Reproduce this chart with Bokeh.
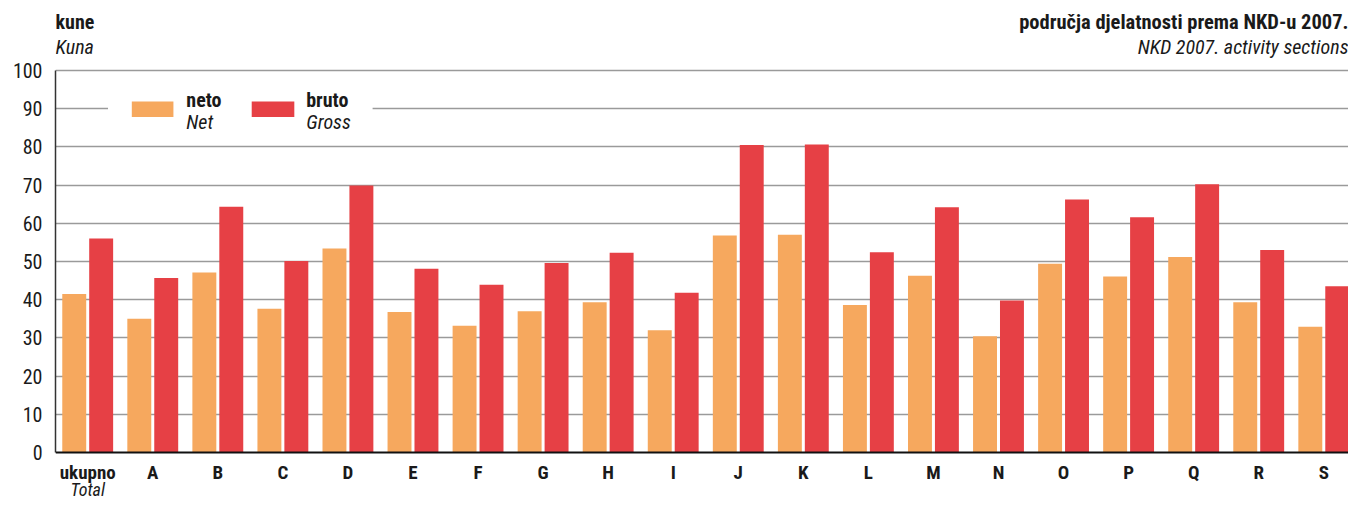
from bokeh.plotting import figure
from bokeh.models import Range1d, FixedTicker, Label, BoxAnnotation, ColumnDataSource, Span
from bokeh.core.properties import value
from bokeh.transform import dodge
from bokeh.embed import file_html
from bokeh.resources import INLINE

categories = ["ukupno", "A", "B", "C", "D", "E", "F", "G", "H", "I",
              "J", "K", "L", "M", "N", "O", "P", "Q", "R", "S"]
sublabels = ["Total"] + [""] * 19
neto = [41.5, 35.0, 47.1, 37.6, 53.4, 36.8, 33.2, 37.0, 39.3, 32.0,
        56.8, 57.0, 38.6, 46.3, 30.4, 49.4, 46.1, 51.2, 39.3, 32.9]
bruto = [56.0, 45.7, 64.3, 50.1, 69.9, 48.1, 43.9, 49.6, 52.3, 41.8,
         80.5, 80.6, 52.4, 64.2, 39.8, 66.2, 61.6, 70.2, 53.0, 43.5]
yticks = list(range(0, 101, 10))

FONT = "Roboto Condensed"
TXT = "#1a1a1a"
NETO_C = "#F6A85E"
BRUTO_C = "#E64045"

W, H = 1348, 501
TOP_PX, ZERO_PX = 70, 452          # pixel rows of the 100 and 0 gridlines
K = (ZERO_PX - TOP_PX) / 100.0     # pixels per kuna
XS, XE = -0.495, 19.38
YS = -(H - ZERO_PX) / K
YE = 100 + TOP_PX / K

xpos = list(range(len(categories)))
src = ColumnDataSource(dict(x=xpos, neto=neto, bruto=bruto,
                            cat=categories, sub=sublabels))

p = figure(width=W, height=H, output_backend="svg", toolbar_location=None,
           tools="", x_range=Range1d(XS, XE), y_range=Range1d(YS, YE),
           x_axis_location=None,
           min_border_left=55, min_border_right=0, min_border_top=0,
           min_border_bottom=0)
p.outline_line_color = None

off = 0.207
bw = 0.368
p.vbar(x=dodge("x", -off), top="neto", width=bw, bottom=0, source=src,
       fill_color=NETO_C, line_color=None)
p.vbar(x=dodge("x", off), top="bruto", width=bw, bottom=0, source=src,
       fill_color=BRUTO_C, line_color=None)

p.xgrid.grid_line_color = None
p.ygrid.ticker = FixedTicker(ticks=yticks[1:])
p.ygrid.grid_line_color = "#9a9a9a"
p.ygrid.grid_line_width = 1.5

p.add_layout(Span(location=yticks[0], dimension="width", line_color="#111111",
                  line_width=2))

p.yaxis.ticker = FixedTicker(ticks=yticks)
p.yaxis.bounds = (yticks[0], yticks[-1])
p.yaxis.axis_line_color = "#333333"
p.yaxis.axis_line_width = 1.5
p.yaxis.major_tick_line_color = None
p.yaxis.minor_tick_line_color = None
p.yaxis.major_tick_out = 0
p.yaxis.minor_tick_out = 0
p.yaxis.major_label_text_font = FONT
p.yaxis.major_label_text_font_size = "20px"
p.yaxis.major_label_text_color = TXT
p.yaxis.major_label_standoff = 13

# category labels (x axis)
p.text(x="x", y=-20 / K, text="cat", source=src, text_font=value(FONT),
       text_font_size="19px", text_font_style="bold", text_color=TXT,
       text_align="center", text_baseline="middle")
p.text(x="x", y=-37 / K, text="sub", source=src, text_font=value(FONT),
       text_font_size="18px", text_font_style="italic", text_color=TXT,
       text_align="center", text_baseline="middle")


def rx(px):
    # reference-picture x pixel -> data x
    return (px - 87.5) / 65.65


def ry(py):
    # reference-picture y pixel -> data y
    return (465 - py) / 3.95


# legend
p.add_layout(BoxAnnotation(left=rx(108), right=rx(375), bottom=ry(125),
                           top=ry(96), fill_color="white", fill_alpha=1,
                           line_color=None))
p.add_layout(BoxAnnotation(left=rx(132), right=rx(174), bottom=ry(118),
                           top=ry(102), fill_color=NETO_C, fill_alpha=1,
                           line_color=None))
p.add_layout(BoxAnnotation(left=rx(253), right=rx(296), bottom=ry(118),
                           top=ry(102), fill_color=BRUTO_C, fill_alpha=1,
                           line_color=None))
for lx, t1, t2 in [(187, "neto", "Net"), (308, "bruto", "Gross")]:
    p.add_layout(Label(x=rx(lx), y=ry(100), text=t1, text_font=FONT,
                       text_font_size="20px", text_font_style="bold",
                       text_color=TXT, text_baseline="middle"))
    p.add_layout(Label(x=rx(lx), y=ry(123), text=t2, text_font=FONT,
                       text_font_size="20px", text_font_style="italic",
                       text_color=TXT, text_baseline="middle"))


# titles (pixel rows measured from the top of the picture)
def ty(py):
    return 100 + (TOP_PX - py) / K


p.add_layout(Label(x=XS, y=ty(21), text="kune", text_font=FONT,
                   text_font_size="20px", text_font_style="bold",
                   text_color=TXT, text_baseline="middle"))
p.add_layout(Label(x=XS, y=ty(46), text="Kuna", text_font=FONT,
                   text_font_size="20px", text_font_style="italic",
                   text_color=TXT, text_baseline="middle"))
p.add_layout(Label(x=XE, y=ty(21), text="područja djelatnosti prema NKD-u 2007.",
                   text_font=FONT, text_font_size="20.5px", text_font_style="bold",
                   text_color=TXT, text_baseline="middle", text_align="right"))
p.add_layout(Label(x=XE, y=ty(46), text="NKD 2007. activity sections",
                   text_font=FONT, text_font_size="20px", text_font_style="italic",
                   text_color=TXT, text_baseline="middle", text_align="right"))

open("out.html", "w").write(file_html(p, INLINE))
